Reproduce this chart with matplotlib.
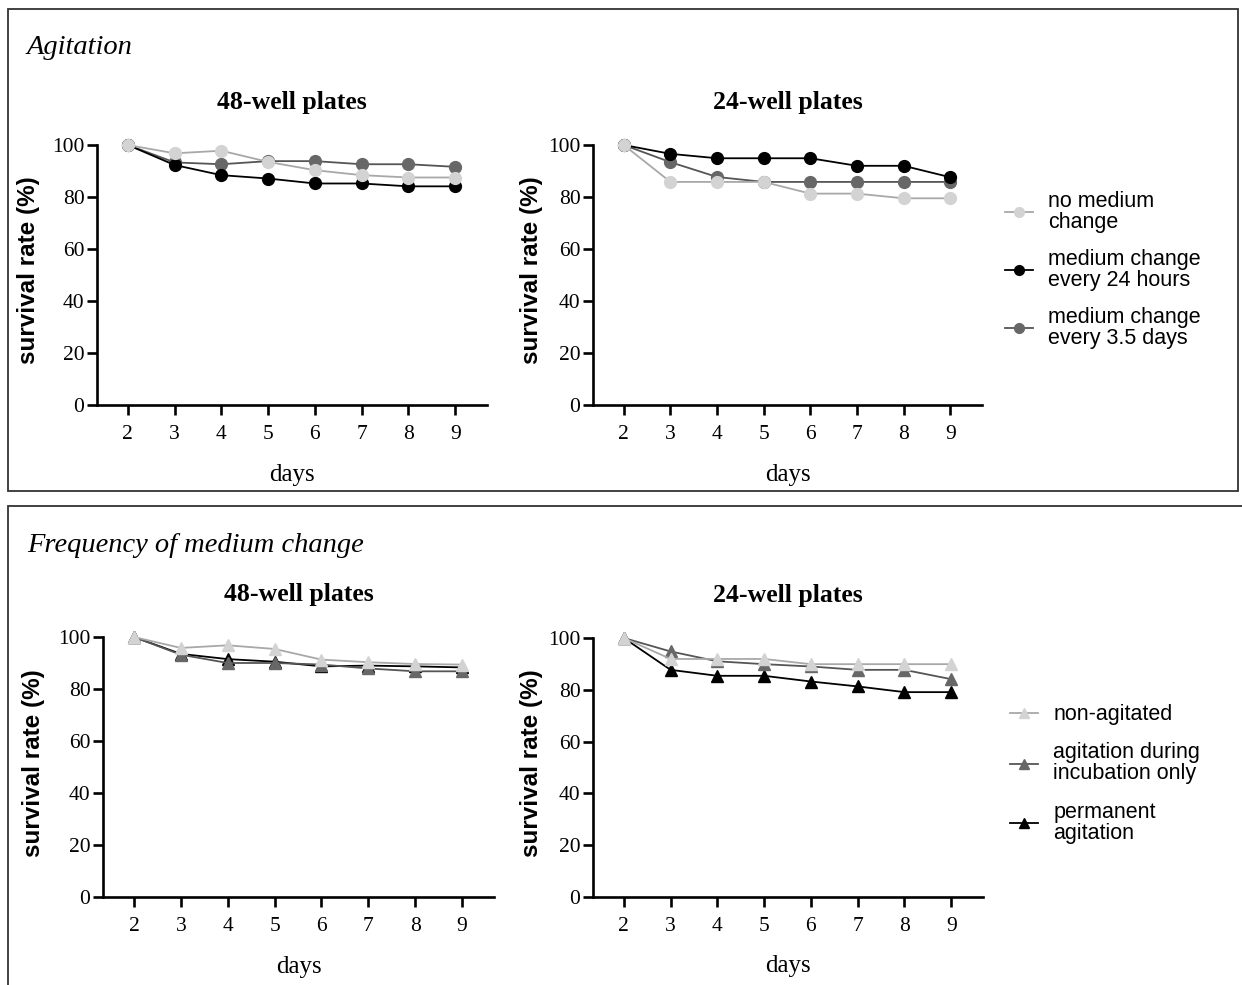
import matplotlib
matplotlib.use("Agg")
import matplotlib.pyplot as plt
from matplotlib.lines import Line2D
from matplotlib.patches import Rectangle

SERIF = "Liberation Serif"
SANS = "Liberation Sans"

days = [2, 3, 4, 5, 6, 7, 8, 9]

# Agitation section (circles)
agit_labels = ["no medium\nchange", "medium change\nevery 24 hours", "medium change\nevery 3.5 days"]
agit_48 = {
    "none": [100, 96.8, 97.8, 93.5, 90.3, 88.4, 87.5, 87.5],
    "24h": [100, 92.3, 88.4, 87.1, 85.2, 85.2, 84.1, 84.1],
    "3.5d": [100, 93.3, 92.6, 93.8, 93.8, 92.6, 92.6, 91.6],
}
agit_24 = {
    "none": [100, 85.8, 85.8, 85.8, 81.3, 81.3, 79.5, 79.5],
    "24h": [100, 96.6, 94.9, 94.9, 94.9, 92.0, 92.0, 87.6],
    "3.5d": [100, 93.4, 87.7, 85.8, 85.8, 85.8, 85.8, 85.8],
}

# Frequency of medium change section (triangles)
freq_labels = ["non-agitated", "agitation during\nincubation only", "permanent\nagitation"]
freq_48 = {
    "non": [100, 95.8, 96.8, 95.4, 91.3, 90.3, 89.6, 89.4],
    "incub": [100, 93.2, 90.0, 90.0, 89.4, 87.9, 86.8, 86.8],
    "perm": [100, 93.5, 91.5, 90.5, 88.7, 89.0, 88.7, 88.3],
}
freq_24 = {
    "non": [100, 91.9, 91.9, 91.9, 89.9, 89.9, 89.9, 89.9],
    "incub": [100, 94.8, 91.0, 89.9, 89.0, 87.7, 87.7, 84.1],
    "perm": [100, 87.7, 85.4, 85.4, 83.2, 81.3, 79.1, 79.1],
}

LIGHT_M, LIGHT_L = "#d3d3d3", "#a8a8a8"
DARK_M, DARK_L = "#676767", "#555555"
BLACK = "black"

W, H = 1242, 985
fig = plt.figure(figsize=(W / 100, H / 100), dpi=100)


def px_axes(x0, x1, y_top, y_bot):
    return fig.add_axes([x0 / W, (H - y_bot) / H, (x1 - x0) / W, (y_bot - y_top) / H])


def style_axes(ax, title, ylab_x, ylab_y):
    ax.set_xlim(1.34, 9.68)
    ax.set_ylim(0, 100)
    ax.set_xticks(days)
    ax.set_yticks([0, 20, 40, 60, 80, 100])
    for s in ["top", "right"]:
        ax.spines[s].set_visible(False)
    for s in ["left", "bottom"]:
        ax.spines[s].set_linewidth(1.9)
    ax.tick_params(direction="out", length=7.5, width=1.9, labelsize=15.5)
    for lab in ax.get_xticklabels() + ax.get_yticklabels():
        lab.set_fontfamily(SERIF)
    ax.tick_params(axis="x", pad=7)
    ax.tick_params(axis="y", pad=1.5)
    ax.set_ylabel("survival rate (%)", fontfamily=SANS, fontweight="bold", fontsize=17.5)
    ax.yaxis.set_label_coords(ylab_x, ylab_y)
    ax.set_xlabel("days", fontfamily=SERIF, fontsize=18)
    ax.xaxis.set_label_coords(0.5, -0.225)
    ax.text(0.5, 1.165, title, transform=ax.transAxes, ha="center", va="center",
            fontfamily=SERIF, fontweight="bold", fontsize=18.5)


def plot_series(ax, y, mk, mc, lc, z):
    ax.plot(days, y, color=lc, lw=1.3, marker=mk, ms=8.5 if mk == "o" else 9,
            mfc=mc, mec=mc, clip_on=False, zorder=z)


# top section
ax1 = px_axes(97, 487, 145, 405)
ax2 = px_axes(593, 982, 145, 405)
for ax, d, t, lx in [(ax1, agit_48, "48-well plates", -0.145), (ax2, agit_24, "24-well plates", -0.128)]:
    plot_series(ax, d["3.5d"], "o", DARK_M, DARK_L, 3)
    plot_series(ax, d["24h"], "o", BLACK, BLACK, 4)
    plot_series(ax, d["none"], "o", LIGHT_M, LIGHT_L, 5)
    style_axes(ax, t, lx, 0.52)

# bottom section
ax3 = px_axes(103, 494, 637, 897)
ax4 = px_axes(593, 983, 638, 897)
for ax, d, t, lx in [(ax3, freq_48, "48-well plates", -0.148), (ax4, freq_24, "24-well plates", -0.128)]:
    plot_series(ax, d["perm"], "^", BLACK, BLACK, 3)
    plot_series(ax, d["incub"], "^", DARK_M, DARK_L, 4)
    plot_series(ax, d["non"], "^", LIGHT_M, LIGHT_L, 5)
    style_axes(ax, t, lx, 0.515)

# legends
h_top = [Line2D([], [], color=LIGHT_L, lw=1.3, marker="o", ms=7, mfc=LIGHT_M, mec=LIGHT_M),
         Line2D([], [], color=BLACK, lw=1.3, marker="o", ms=7, mfc=BLACK, mec=BLACK),
         Line2D([], [], color=DARK_L, lw=1.3, marker="o", ms=7, mfc=DARK_M, mec=DARK_M)]
leg = ax2.legend(h_top, agit_labels, loc="center left", bbox_to_anchor=(1.059, 0.52),
                 frameon=False, borderpad=0, borderaxespad=0, handlelength=1.3,
                 handletextpad=0.7, labelspacing=0.75, prop={"family": SANS, "size": 15.5})
for t in leg.get_texts():
    t.set_linespacing(1.0)

h_bot = [Line2D([], [], color=LIGHT_L, lw=1.3, marker="^", ms=7, mfc=LIGHT_M, mec=LIGHT_M),
         Line2D([], [], color=DARK_L, lw=1.3, marker="^", ms=7, mfc=DARK_M, mec=DARK_M),
         Line2D([], [], color=BLACK, lw=1.3, marker="^", ms=7, mfc=BLACK, mec=BLACK)]
leg2 = ax4.legend(h_bot, freq_labels, loc="center left", bbox_to_anchor=(1.07, 0.475),
                  frameon=False, borderpad=0, borderaxespad=0, handlelength=1.3,
                  handletextpad=0.7, labelspacing=0.8, prop={"family": SANS, "size": 15.5})
for t in leg2.get_texts():
    t.set_linespacing(1.0)

# section frames and headings
fig.patches.append(Rectangle((8 / W, (H - 491) / H), 1230 / W, 482 / H, transform=fig.transFigure,
                             fill=False, edgecolor="#333333", lw=1.3))
fig.patches.append(Rectangle((8 / W, -0.02), 1.1, (H - 506) / H + 0.02, transform=fig.transFigure,
                             fill=False, edgecolor="#333333", lw=1.3))
fig.text(27 / W, (H - 47) / H, "Agitation", fontfamily=SERIF, fontstyle="italic",
         fontsize=20.5, va="center", ha="left")
fig.text(27 / W, (H - 545) / H, "Frequency of medium change", fontfamily=SERIF,
         fontstyle="italic", fontsize=20.5, va="center", ha="left")

fig.savefig("out.png", dpi=100)
